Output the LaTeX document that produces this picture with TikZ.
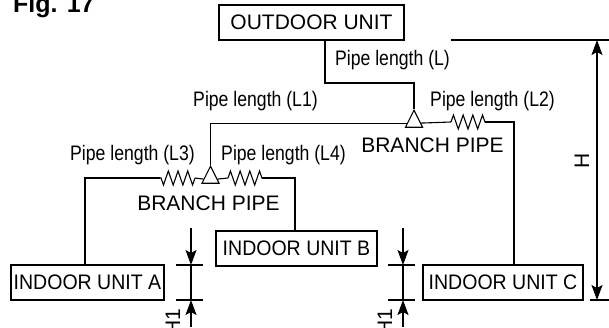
\documentclass[tikz,border=0pt]{standalone}
\usepackage{fontspec}
\setmainfont{Liberation Sans}
\newfontfamily\pipefont[FakeStretch=0.84]{Liberation Sans}
\newfontfamily\unitfont[FakeStretch=0.93]{Liberation Sans}
\usetikzlibrary{shapes.geometric, decorations.pathmorphing, arrows.meta, calc}

\begin{document}
\begin{tikzpicture}[x=1pt, y=-1pt, line width=1.1pt, font=\fontsize{21}{23}\selectfont,
    unit/.style={draw, fill=white, minimum height=35pt, inner sep=0pt, align=center},
    lbl/.style={inner sep=0pt, align=center},
    pipelbl/.style={lbl, font=\fontsize{21}{23}\selectfont\pipefont},
    branch/.style={draw, fill=white, isosceles triangle, isosceles triangle apex angle=53,
      isosceles triangle stretches, shape border rotate=90, minimum width=17pt, minimum height=17pt, inner sep=0pt, anchor=apex},
    zig/.style={decorate, decoration={zigzag, amplitude=7pt, segment length=9.7pt}},
    tip/.tip={Stealth[length=15pt, width=11pt, inset=3pt]},
    dimen/.style={-tip}]
    \useasboundingbox (0,0) rectangle (609,327);

    \node[lbl, font=\fontsize{25}{27}\selectfont\bfseries, anchor=base west] (fig) at (12.5,12.5) {Fig. 17};

    \node[unit, minimum width=185pt] (out) at (311.5,22.5) {OUTDOOR UNIT};
    \node[unit, minimum width=153pt, font=\fontsize{21}{23}\selectfont\unitfont] (unitA) at (87.5,282.5) {INDOOR UNIT A};
    \node[unit, minimum width=161pt, font=\fontsize{21}{23}\selectfont\unitfont] (unitB) at (296.5,248.5) {INDOOR UNIT B};
    \node[unit, minimum width=160pt, font=\fontsize{21}{23}\selectfont\unitfont] (unitC) at (503,282.5) {INDOOR UNIT C};

    \node[branch] (brU) at (414,109) {};
    \node[branch] (brL) at (210.5,165) {};

    % zigzag ends
    \coordinate (l2a) at (451,122);
    \coordinate (l2b) at (485,122);
    \coordinate (l3a) at (195,178);
    \coordinate (l3b) at (160,178);
    \coordinate (l4a) at (228,178);
    \coordinate (l4b) at (262,178);

    % pipes
    \draw (out.south -| 325,0) |- (414,83) -- (brU.apex);
    \draw (brL.apex) |- ($(brU.left corner)!0.25!(brU.apex)$);
    \draw ($(brU.right corner)!0.25!(brU.apex)$) -- (l2a);
    \draw[zig] (l2a) -- (l2b);
    \draw (l2b) -| (unitC.north -| 514,0);
    \draw ($(brL.left corner)!0.25!(brL.apex)$) -- (l3a);
    \draw[zig] (l3a) -- (l3b);
    \draw (l3b) -| (unitA.north -| 85,0);
    \draw ($(brL.right corner)!0.25!(brL.apex)$) -- (l4a);
    \draw[zig] (l4a) -- (l4b);
    \draw (l4b) -| (unitB.north -| 295,0);

    \node[pipelbl] (lblL) at (392.5,60) {Pipe length (L)};
    \node[pipelbl] (lblLa) at (255.5,101) {Pipe length (L1)};
    \node[pipelbl] (lblLb) at (492.5,101) {Pipe length (L2)};
    \node[pipelbl] (lblLc) at (132.5,155) {Pipe length (L3)};
    \node[pipelbl] (lblLd) at (283.5,155) {Pipe length (L4)};
    \node[lbl] (brUl) at (432.5,145) {BRANCH PIPE};
    \node[lbl] (brLl) at (208.5,203) {BRANCH PIPE};

    % heights
    \coordinate (hTop) at (597,40);
    \coordinate (hBot) at (597,300);
    \draw (451,40) -- (609,40);
    \draw (590,300) -- (609,300);
    \draw[tip-tip] (hTop) -- (hBot);
    \node[lbl, rotate=90] (lblH) at (582,160.5) {H};

    \foreach \x/\n in {191/a, 403/b} {
      \draw (\x-15,265) -- (\x+12,265);
      \draw (\x-15,300) -- (\x+12,300);
      \draw (\x,265) -- (\x,300);
      \draw[dimen] (\x,228) -- (\x,265);
      \draw[dimen] (\x,327) -- (\x,300);
      \node[lbl, rotate=90, anchor=east] (lblH\n) at (\x-18,308) {H1};
    }
\end{tikzpicture}
\end{document}
